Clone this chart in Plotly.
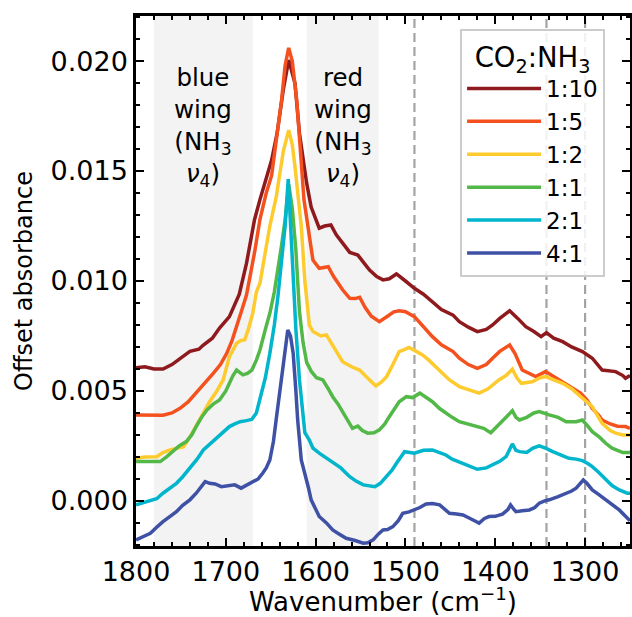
import plotly.graph_objects as go

# ---------------- data ----------------
labels = ["1:10", "1:5", "1:2", "1:1", "2:1", "4:1"]
colors = ["#8f1a1e", "#f4511e", "#fecb2e", "#52b848", "#00b5cc", "#3f51a5"]

wn_1_10 = [1800, 1790, 1780, 1770, 1760, 1750, 1740, 1730, 1725, 1715, 1707, 1696, 1685, 1677,
           1668, 1662, 1655, 1649, 1643, 1636, 1630, 1623, 1618, 1610, 1605, 1600, 1596, 1590,
           1583, 1577, 1570, 1562, 1553, 1546, 1540, 1532, 1525, 1518, 1510, 1500, 1490, 1480,
           1470, 1460, 1447, 1440, 1430, 1420, 1410, 1403, 1395, 1384, 1375, 1366, 1357, 1349,
           1343, 1335, 1325, 1315, 1303, 1292, 1281, 1272, 1266, 1258, 1255, 1250]
ab_1_10 = [0.00605, 0.00610, 0.00600, 0.00600, 0.00620, 0.00650, 0.00680, 0.00690, 0.00709,
           0.00740, 0.00786, 0.00838, 0.00940, 0.01080, 0.01280, 0.01370, 0.01460, 0.01550,
           0.01670, 0.01870, 0.02005, 0.01899, 0.01672, 0.01445, 0.01336, 0.01280, 0.01240,
           0.01250, 0.01255, 0.01210, 0.01171, 0.01130, 0.01118, 0.01080, 0.01050, 0.01020,
           0.01005, 0.01010, 0.01032, 0.01000, 0.00967, 0.00940, 0.00906, 0.00870, 0.00845,
           0.00815, 0.00790, 0.00770, 0.00780, 0.00800, 0.00830, 0.00865, 0.00830, 0.00792,
           0.00770, 0.00747, 0.00765, 0.00740, 0.00724, 0.00700, 0.00679, 0.00649, 0.00595,
           0.00590, 0.00588, 0.00570, 0.00558, 0.00570]

wn_1_5 = [1800, 1790, 1780, 1770, 1760, 1751, 1742, 1733, 1724, 1714, 1706, 1699, 1693, 1688,
          1682, 1677, 1672, 1668, 1662, 1655, 1649, 1643, 1638, 1634, 1630, 1626, 1621, 1613,
          1610, 1603, 1596, 1590, 1586, 1580, 1570, 1562, 1556, 1551, 1545, 1538, 1529, 1520,
          1513, 1507, 1500, 1490, 1480, 1470, 1460, 1447, 1440, 1430, 1420, 1410, 1403, 1395,
          1384, 1378, 1370, 1362, 1355, 1344, 1337, 1329, 1318, 1305, 1298, 1292, 1285, 1281,
          1272, 1264, 1255, 1250]
ab_1_5 = [0.00391, 0.00390, 0.00390, 0.00390, 0.00400, 0.00421, 0.00450, 0.00490, 0.00530,
          0.00580, 0.00620, 0.00671, 0.00730, 0.00800, 0.00870, 0.00936, 0.01040, 0.01130,
          0.01280, 0.01400, 0.01480, 0.01650, 0.01820, 0.01980, 0.02060, 0.02000, 0.01820,
          0.01370, 0.01280, 0.01095, 0.01058, 0.01060, 0.01065, 0.01020, 0.00960, 0.00921,
          0.00920, 0.00926, 0.00880, 0.00840, 0.00815, 0.00840, 0.00860, 0.00865, 0.00860,
          0.00838, 0.00790, 0.00747, 0.00710, 0.00679, 0.00649, 0.00620, 0.00603, 0.00620,
          0.00649, 0.00680, 0.00709, 0.00670, 0.00595, 0.00580, 0.00565, 0.00588, 0.00570,
          0.00550, 0.00520, 0.00490, 0.00460, 0.00421, 0.00390, 0.00368, 0.00350, 0.00340,
          0.00338, 0.00330]

wn_1_2 = [1800, 1790, 1777, 1770, 1762, 1755, 1747, 1740, 1733, 1725, 1718, 1710, 1703, 1696,
          1688, 1683, 1679, 1675, 1670, 1666, 1662, 1656, 1651, 1644, 1636, 1630, 1626, 1623,
          1616, 1612, 1610, 1607, 1603, 1599, 1594, 1588, 1580, 1570, 1560, 1551, 1545, 1538,
          1533, 1527, 1521, 1514, 1507, 1500, 1496, 1488, 1481, 1474, 1466, 1458, 1451, 1440,
          1430, 1418, 1408, 1396, 1388, 1381, 1376, 1371, 1359, 1350, 1344, 1335, 1325, 1315,
          1307, 1300, 1292, 1285, 1281, 1272, 1266, 1258, 1250]
ab_1_2 = [0.00194, 0.00200, 0.00201, 0.00220, 0.00232, 0.00240, 0.00247, 0.00290, 0.00338,
          0.00400, 0.00451, 0.00500, 0.00550, 0.00656, 0.00717, 0.00730, 0.00732, 0.00780,
          0.00853, 0.00950, 0.00990, 0.01130, 0.01250, 0.01380, 0.01590, 0.01686, 0.01620,
          0.01520, 0.01250, 0.01000, 0.00920, 0.00800, 0.00770, 0.00762, 0.00750, 0.00755,
          0.00700, 0.00633, 0.00610, 0.00595, 0.00570, 0.00540, 0.00523, 0.00540, 0.00565,
          0.00620, 0.00679, 0.00690, 0.00698, 0.00680, 0.00664, 0.00640, 0.00610, 0.00580,
          0.00550, 0.00520, 0.00505, 0.00490, 0.00510, 0.00550, 0.00570, 0.00599, 0.00560,
          0.00535, 0.00542, 0.00560, 0.00565, 0.00550, 0.00535, 0.00510, 0.00482, 0.00460,
          0.00429, 0.00380, 0.00353, 0.00320, 0.00308, 0.00300, 0.00300]

wn_1_1 = [1800, 1790, 1780, 1773, 1766, 1759, 1752, 1744, 1738, 1733, 1727, 1721, 1714, 1707,
          1700, 1696, 1692, 1688, 1684, 1681, 1676, 1671, 1666, 1662, 1656, 1651, 1646, 1642,
          1638, 1634, 1630, 1626, 1622, 1618, 1614, 1610, 1605, 1599, 1592, 1586, 1581, 1575,
          1570, 1565, 1559, 1553, 1548, 1542, 1535, 1529, 1523, 1518, 1512, 1507, 1499, 1492,
          1484, 1477, 1470, 1462, 1455, 1448, 1440, 1430, 1421, 1413, 1405, 1398, 1392, 1385,
          1381, 1377, 1373, 1365, 1357, 1351, 1345, 1340, 1330, 1321, 1310, 1303, 1297, 1292,
          1284, 1277, 1270, 1266, 1258, 1250]
ab_1_1 = [0.00179, 0.00180, 0.00178, 0.00179, 0.00200, 0.00224, 0.00250, 0.00270, 0.00300,
          0.00338, 0.00380, 0.00414, 0.00440, 0.00459, 0.00500, 0.00535, 0.00570, 0.00595,
          0.00580, 0.00573, 0.00580, 0.00595, 0.00640, 0.00686, 0.00780, 0.00853, 0.00950,
          0.01050, 0.01160, 0.01277, 0.01440, 0.01330, 0.01140, 0.00860, 0.00720, 0.00630,
          0.00590, 0.00560, 0.00550, 0.00510, 0.00474, 0.00440, 0.00406, 0.00370, 0.00330,
          0.00340, 0.00320, 0.00308, 0.00310, 0.00323, 0.00350, 0.00383, 0.00420, 0.00451,
          0.00474, 0.00470, 0.00490, 0.00470, 0.00451, 0.00420, 0.00399, 0.00380, 0.00360,
          0.00350, 0.00338, 0.00330, 0.00310, 0.00340, 0.00360, 0.00390, 0.00410, 0.00380,
          0.00368, 0.00380, 0.00400, 0.00406, 0.00400, 0.00391, 0.00380, 0.00360, 0.00360,
          0.00368, 0.00340, 0.00315, 0.00290, 0.00262, 0.00240, 0.00232, 0.00220, 0.00220]

wn_2_1 = [1800, 1790, 1784, 1777, 1770, 1762, 1755, 1748, 1740, 1732, 1725, 1717, 1710, 1703,
          1696, 1690, 1684, 1677, 1671, 1666, 1662, 1656, 1651, 1646, 1642, 1638, 1634, 1630.5,
          1628, 1625, 1622, 1618, 1614, 1612, 1607, 1603, 1596, 1590, 1581, 1572, 1562, 1555,
          1547, 1540, 1534, 1528, 1521, 1515, 1510, 1505, 1501, 1495, 1490, 1480, 1470, 1462,
          1455, 1448, 1440, 1430, 1420, 1410, 1403, 1395, 1388, 1381, 1377, 1373, 1365, 1358,
          1351, 1344, 1336, 1327, 1318, 1310, 1303, 1297, 1292, 1285, 1277, 1270, 1262, 1253,
          1250]
ab_2_1 = [-0.00018, -0.00005, 0.00005, 0.00010, 0.00035, 0.00060, 0.00080, 0.00110, 0.00149,
          0.00190, 0.00232, 0.00260, 0.00285, 0.00310, 0.00338, 0.00350, 0.00360, 0.00365,
          0.00371, 0.00400, 0.00459, 0.00560, 0.00671, 0.00800, 0.00929, 0.01080, 0.01250,
          0.01463, 0.01250, 0.01000, 0.00780, 0.00550, 0.00370, 0.00310, 0.00277, 0.00240,
          0.00217, 0.00200, 0.00179, 0.00150, 0.00110, 0.00090, 0.00073, 0.00070, 0.00065,
          0.00080, 0.00110, 0.00140, 0.00171, 0.00200, 0.00224, 0.00220, 0.00217, 0.00230,
          0.00232, 0.00220, 0.00209, 0.00190, 0.00176, 0.00160, 0.00144, 0.00150, 0.00164,
          0.00180, 0.00201, 0.00259, 0.00230, 0.00224, 0.00220, 0.00240, 0.00250, 0.00240,
          0.00224, 0.00210, 0.00194, 0.00190, 0.00183, 0.00170, 0.00156, 0.00130, 0.00095,
          0.00070, 0.00050, 0.00035, 0.00035]

wn_4_1 = [1800, 1792, 1784, 1777, 1770, 1762, 1755, 1748, 1740, 1733, 1728, 1723, 1718, 1712,
          1705, 1698, 1690, 1683, 1677, 1670, 1664, 1659, 1655, 1651, 1647, 1644, 1640, 1636,
          1631, 1628, 1625, 1622, 1620, 1616, 1612, 1608, 1605, 1600, 1596, 1588, 1581, 1574,
          1566, 1556, 1547, 1542, 1536, 1530, 1525, 1520, 1514, 1508, 1503, 1496, 1490, 1484,
          1477, 1470, 1462, 1455, 1451, 1443, 1436, 1428, 1418, 1412, 1407, 1400, 1392, 1386,
          1383, 1379, 1377, 1370, 1362, 1356, 1351, 1345, 1340, 1330, 1321, 1315, 1310, 1305,
          1302, 1298, 1292, 1285, 1277, 1270, 1262, 1255, 1250]
ab_4_1 = [-0.00177, -0.00160, -0.00147, -0.00120, -0.00094, -0.00070, -0.00049, -0.00020,
          0.00005, 0.00035, 0.00060, 0.00088, 0.00080, 0.00077, 0.00065, 0.00070, 0.00073,
          0.00058, 0.00070, 0.00088, 0.00100, 0.00126, 0.00150, 0.00186, 0.00270, 0.00368,
          0.00500, 0.00641, 0.00777, 0.00750, 0.00671, 0.00500, 0.00368, 0.00186, 0.00126,
          0.00060, 0.00005, -0.00040, -0.00071, -0.00100, -0.00132, -0.00150, -0.00170,
          -0.00180, -0.00192, -0.00190, -0.00177, -0.00150, -0.00132, -0.00130, -0.00117,
          -0.00090, -0.00056, -0.00050, -0.00041, -0.00030, -0.00014, -0.00012, -0.00018,
          -0.00040, -0.00056, -0.00060, -0.00064, -0.00080, -0.00101, -0.00080, -0.00071,
          -0.00070, -0.00060, -0.00040, -0.00018, -0.00040, -0.00049, -0.00045, -0.00041,
          -0.00030, -0.00010, 0.00000, 0.00005, 0.00020, 0.00035, 0.00045, 0.00058, 0.00080,
          0.00095, 0.00080, 0.00050, 0.00030, 0.00005, -0.00020, -0.00041, -0.00070, -0.00090]

wavenumbers = [wn_1_10, wn_1_5, wn_1_2, wn_1_1, wn_2_1, wn_4_1]
absorbances = [ab_1_10, ab_1_5, ab_1_2, ab_1_1, ab_2_1, ab_4_1]

wing_ranges = [(1780, 1670), (1610, 1530)]
wing_texts = ["blue<br>wing<br>(NH<sub>3</sub><br><i>ν</i><sub>4</sub>)",
              "red<br>wing<br>(NH<sub>3</sub><br><i>ν</i><sub>4</sub>)"]
ref_lines = [1490, 1343, 1300]

x_range = [1800, 1250]
y_range = [-0.00205, 0.02205]
y_ticks = [0.000, 0.005, 0.010, 0.015, 0.020]

FONT = "DejaVu Sans"

# ---------------- figure ----------------
fig = go.Figure()
for wn, ab, lab, col in zip(wavenumbers, absorbances, labels, colors):
    fig.add_trace(go.Scatter(x=wn, y=ab, mode="lines", name=lab,
                             line=dict(color=col, width=3.5)))

shapes = []
for (a, b) in wing_ranges:
    shapes.append(dict(type="rect", xref="x", yref="paper", x0=a, x1=b, y0=0, y1=1,
                       fillcolor="#f3f3f3", line=dict(width=0), layer="below"))
for xv in ref_lines:
    shapes.append(dict(type="line", xref="x", yref="paper", x0=xv, x1=xv, y0=0, y1=1,
                       line=dict(color="#a3a3a3", width=2.2, dash="9px,5px"), layer="below"))

annotations = []
for (a, b), txt in zip(wing_ranges, wing_texts):
    annotations.append(dict(x=(a + b) / 2, y=0.0200, xref="x", yref="y", text=txt,
                            showarrow=False, xanchor="center", yanchor="top", align="center",
                            font=dict(family=FONT, size=24.5, color="black")))

axis_common = dict(showline=True, linecolor="black", linewidth=2.5, mirror="allticks",
                   ticks="inside", ticklen=8, tickwidth=2, tickcolor="black",
                   showgrid=False, zeroline=False, automargin=False,
                   tickfont=dict(family=FONT, size=27, color="black"))

fig.update_layout(
    width=632, height=617,
    margin=dict(l=136, r=2, t=16, b=71),
    paper_bgcolor="white", plot_bgcolor="white",
    font=dict(family=FONT, size=26, color="black"),
    shapes=shapes, annotations=annotations,
    xaxis=dict(range=x_range, dtick=100, tick0=0,
               title=dict(text="Wavenumber (cm<sup>−1</sup>)",
                          font=dict(family=FONT, size=26), standoff=7),
               minor=dict(ticks="inside", ticklen=4, tickwidth=1.5, tickcolor="black", dtick=20),
               **axis_common),
    yaxis=dict(range=y_range, tickvals=y_ticks, tickformat=".3f",
               title=dict(text="Offset absorbance", font=dict(family=FONT, size=24), standoff=12),
               minor=dict(ticks="inside", ticklen=4, tickwidth=1.5, tickcolor="black", dtick=0.001,
                          tick0=0),
               **axis_common),
    legend=dict(x=0.656, y=0.975, xanchor="left", yanchor="top",
                bgcolor="rgba(255,255,255,0.85)", bordercolor="#cccccc", borderwidth=2,
                font=dict(family=FONT, size=23, color="black"),
                title=dict(text="CO<sub>2</sub>:NH<sub>3</sub>", side="top center",
                           font=dict(family=FONT, size=27.5)),
                itemwidth=74, tracegroupgap=0),
    showlegend=True,
)

fig.write_html("out.html", config={"displayModeBar": False},
               post_script="document.body.style.margin='0';")
